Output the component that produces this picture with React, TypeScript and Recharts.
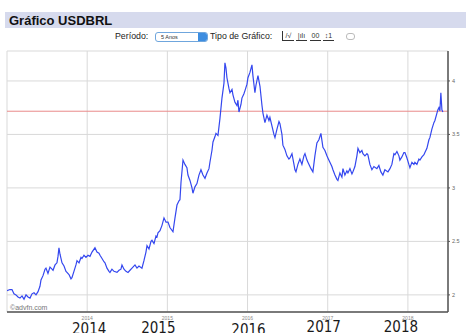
import React from "react";
import { CartesianGrid, Line, LineChart, ReferenceLine, XAxis, YAxis } from "recharts";

// decimal year of each sample
const years = [
  2013.0, 2013.037, 2013.062, 2013.087, 2013.112, 2013.137, 2013.162, 2013.187, 2013.212, 2013.237,
  2013.262, 2013.287, 2013.312, 2013.337, 2013.362, 2013.387, 2013.411, 2013.424, 2013.449, 2013.474,
  2013.486, 2013.511, 2013.536, 2013.561, 2013.574, 2013.599, 2013.623, 2013.636, 2013.648, 2013.661,
  2013.686, 2013.711, 2013.736, 2013.748, 2013.773, 2013.798, 2013.81, 2013.835, 2013.86, 2013.873,
  2013.898, 2013.923, 2013.935, 2013.96, 2013.985, 2014.01, 2014.035, 2014.06, 2014.097, 2014.122,
  2014.147, 2014.16, 2014.185, 2014.209, 2014.222, 2014.247, 2014.272, 2014.284, 2014.309, 2014.334,
  2014.372, 2014.397, 2014.421, 2014.434, 2014.459, 2014.484, 2014.509, 2014.534, 2014.559, 2014.596,
  2014.621, 2014.646, 2014.683, 2014.708, 2014.733, 2014.746, 2014.771, 2014.796, 2014.808, 2014.833,
  2014.858, 2014.87, 2014.883, 2014.908, 2014.933, 2014.958, 2014.983, 2015.008, 2015.032, 2015.07,
  2015.095, 2015.12, 2015.145, 2015.157, 2015.17, 2015.195, 2015.219, 2015.244, 2015.257, 2015.282,
  2015.307, 2015.319, 2015.344, 2015.369, 2015.394, 2015.419, 2015.444, 2015.469, 2015.494, 2015.519,
  2015.531, 2015.556, 2015.569, 2015.594, 2015.606, 2015.631, 2015.656, 2015.681, 2015.706, 2015.718,
  2015.731, 2015.743, 2015.768, 2015.781, 2015.806, 2015.818, 2015.843, 2015.868, 2015.88, 2015.893,
  2015.918, 2015.93, 2015.955, 2015.968, 2015.993, 2016.005, 2016.03, 2016.055, 2016.067, 2016.092,
  2016.105, 2016.13, 2016.155, 2016.18, 2016.192, 2016.217, 2016.242, 2016.267, 2016.279, 2016.304,
  2016.329, 2016.342, 2016.367, 2016.392, 2016.404, 2016.429, 2016.441, 2016.466, 2016.491, 2016.516,
  2016.529, 2016.554, 2016.579, 2016.591, 2016.604, 2016.628, 2016.653, 2016.678, 2016.703, 2016.716,
  2016.741, 2016.753, 2016.778, 2016.791, 2016.815, 2016.84, 2016.865, 2016.89, 2016.915, 2016.94,
  2016.965, 2016.99, 2017.002, 2017.027, 2017.052, 2017.065, 2017.09, 2017.115, 2017.127, 2017.152,
  2017.177, 2017.19, 2017.214, 2017.239, 2017.252, 2017.277, 2017.302, 2017.314, 2017.339, 2017.364,
  2017.377, 2017.401, 2017.426, 2017.439, 2017.464, 2017.489, 2017.501, 2017.526, 2017.551, 2017.576,
  2017.613, 2017.638, 2017.663, 2017.688, 2017.713, 2017.751, 2017.776, 2017.8, 2017.825, 2017.838,
  2017.863, 2017.888, 2017.9, 2017.925, 2017.95, 2017.963, 2017.988, 2018.012, 2018.025, 2018.05,
  2018.075, 2018.087, 2018.112, 2018.137, 2018.15, 2018.175, 2018.2, 2018.212, 2018.237, 2018.262,
  2018.274, 2018.299, 2018.324, 2018.337, 2018.362, 2018.374, 2018.387, 2018.399, 2018.411, 2018.424,
  2018.436,
];

const usdBrl = [
  2.04, 2.05, 2.05, 2.01, 2.0, 1.98, 1.97, 1.99, 1.96, 2.0,
  1.98, 1.97, 2.01, 2.02, 2.0, 2.03, 2.08, 2.14, 2.18, 2.24,
  2.25, 2.2, 2.26, 2.24, 2.23, 2.28, 2.3, 2.36, 2.44, 2.38,
  2.3, 2.27, 2.22, 2.21, 2.19, 2.15, 2.16, 2.22, 2.28, 2.32,
  2.3, 2.35, 2.34, 2.37, 2.35, 2.37, 2.36, 2.4, 2.44, 2.4,
  2.39, 2.37, 2.34, 2.31, 2.3, 2.25, 2.22, 2.21, 2.24, 2.22,
  2.21, 2.23, 2.24, 2.28, 2.24, 2.22, 2.21, 2.23, 2.25, 2.28,
  2.25, 2.27, 2.25, 2.32, 2.4, 2.46, 2.43, 2.5, 2.51, 2.48,
  2.55, 2.54, 2.58, 2.6, 2.65, 2.72, 2.68, 2.68, 2.63, 2.59,
  2.72, 2.84, 2.88, 2.89, 3.05, 3.26, 3.22, 3.19, 3.12, 3.07,
  3.0, 2.95, 3.01, 3.04, 3.12, 3.17, 3.12, 3.09, 3.14, 3.18,
  3.24, 3.35, 3.43, 3.48, 3.51, 3.49, 3.65, 3.84, 3.98, 4.17,
  4.12, 4.03, 3.93, 3.89, 3.92, 3.87, 3.8, 3.77, 3.82, 3.71,
  3.78, 3.84, 3.88, 3.91, 3.97, 4.03, 4.08, 4.15, 4.05, 3.89,
  3.96, 4.05, 3.95, 3.77, 3.7, 3.61, 3.68, 3.63, 3.66, 3.58,
  3.5, 3.47, 3.55, 3.62, 3.6, 3.5, 3.4, 3.36, 3.3, 3.27,
  3.28, 3.32, 3.22, 3.17, 3.15, 3.22, 3.27, 3.22, 3.3, 3.32,
  3.26, 3.24, 3.2, 3.18, 3.15, 3.3, 3.42, 3.45, 3.51, 3.38,
  3.35, 3.3, 3.28, 3.24, 3.2, 3.17, 3.12, 3.08, 3.07, 3.14,
  3.1, 3.18, 3.12, 3.16, 3.14, 3.18, 3.13, 3.15, 3.2, 3.3,
  3.37, 3.33, 3.35, 3.32, 3.3, 3.32, 3.31, 3.22, 3.17, 3.2,
  3.18, 3.21, 3.15, 3.12, 3.17, 3.15, 3.18, 3.22, 3.32, 3.31,
  3.34, 3.3, 3.26, 3.29, 3.33, 3.33, 3.28, 3.22, 3.19, 3.24,
  3.22, 3.24, 3.22, 3.27, 3.26, 3.29, 3.31, 3.33, 3.37, 3.45,
  3.47, 3.55, 3.61, 3.63, 3.7, 3.73, 3.75, 3.72, 3.89, 3.73,
  3.71,
];

const yearTicks = [2014, 2015, 2016, 2017, 2018];
const rateTicks = [2, 2.5, 3, 3.5, 4];
const lastQuote = 3.717;

// hand-placed big year captions under the axis (nudge from each gridline)
const captionNudge: Record<number, [number, number]> = {
  2014: [2, 19.5],
  2015: [-9, 18.5],
  2016: [1, 21],
  2017: [-4, 18],
  2018: [-7, 18],
};

const data = years.map((year, i) => ({ year, rate: usdBrl[i] }));

function YearTick(props: any) {
  const { x, y, payload } = props;
  const [dx, dy] = captionNudge[payload.value] || [0, 20];
  return (
    <g>
      <text x={x} y={y + 6} textAnchor="middle" fontSize={5} fill="#888" fontFamily="Liberation Sans, Arial, sans-serif">
        {payload.value}
      </text>
      <text
        x={x + dx}
        y={y + dy}
        textAnchor="middle"
        fontSize={15}
        fill="#1a1a1a"
        fontFamily="'Liberation Sans Narrow', 'DejaVu Sans Condensed', 'Liberation Sans', sans-serif"
      >
        {payload.value}
      </text>
    </g>
  );
}

const uiFont = "'Liberation Sans', Arial, sans-serif";

function Toolbar() {
  const iconBox: React.CSSProperties = {
    position: "absolute", top: 31, width: 11, height: 9, borderBottom: "1px solid #333",
    fontSize: 7, lineHeight: "9px", textAlign: "center", color: "#333", fontFamily: uiFont,
  };
  return (
    <>
      <div style={{ position: "absolute", left: 5, top: 12, width: 461, height: 16, background: "#d6daed" }} />
      <div style={{ position: "absolute", left: 9, top: 13, fontSize: 13, fontWeight: 700, color: "#111", fontFamily: uiFont, lineHeight: "15px" }}>
        Gráfico USDBRL
      </div>
      <div style={{ position: "absolute", left: 115, top: 31, fontSize: 8.8, color: "#222", fontFamily: uiFont, lineHeight: "11px" }}>
        Período:
      </div>
      <div style={{ position: "absolute", left: 155, top: 32, width: 51, height: 8, border: "1px solid #6fa6dd", borderRadius: 3, background: "#fff", overflow: "hidden" }}>
        <div style={{ position: "absolute", left: 5, top: 0, fontSize: 5.5, lineHeight: "8px", color: "#333", fontFamily: uiFont }}>5 Anos</div>
        <div style={{ position: "absolute", right: 0, top: 0, width: 9, height: 8, background: "#3d8de0" }} />
      </div>
      <div style={{ position: "absolute", left: 210, top: 31, fontSize: 8.8, color: "#222", fontFamily: uiFont, lineHeight: "11px" }}>
        Tipo de Gráfico:
      </div>
      <div style={{ ...iconBox, left: 282, borderLeft: "1px solid #333" }}>/√</div>
      <div style={{ ...iconBox, left: 296 }}>|ılı</div>
      <div style={{ ...iconBox, left: 310 }}>00</div>
      <div style={{ ...iconBox, left: 323 }}>↕1</div>
      <div style={{ position: "absolute", left: 346, top: 33, width: 7, height: 5, border: "1px solid #bbb", borderRadius: 3 }} />
    </>
  );
}

export default function App() {
  return (
    <div style={{ position: "absolute", left: 0, top: 0, width: 466, height: 333, background: "#fff", overflow: "hidden" }}>
      <Toolbar />
      <div style={{ position: "absolute", left: 0, top: 0 }}>
        <LineChart width={466} height={333} data={data} margin={{ top: 51, right: 0, bottom: 0, left: 7 }}>
          <CartesianGrid stroke="#d9d9d9" strokeWidth={1} />
          <XAxis
            dataKey="year"
            type="number"
            domain={[2013, 2018.5]}
            ticks={yearTicks}
            height={21}
            tickLine={false}
            tickSize={0}
            axisLine={{ stroke: "#555", strokeWidth: 1.5 }}
            tick={<YearTick />}
            interval={0}
            allowDataOverflow
          />
          <XAxis xAxisId="top" orientation="top" type="number" domain={[2013, 2018.5]} height={0} tick={false} tickLine={false} axisLine={{ stroke: "#999" }} />
          <YAxis
            orientation="right"
            type="number"
            domain={[1.84, 4.28]}
            ticks={rateTicks}
            width={18}
            tickSize={2}
            tickLine={{ stroke: "#555" }}
            axisLine={{ stroke: "#555", strokeWidth: 1.5 }}
            tick={{ fontSize: 5.5, fill: "#666", fontFamily: uiFont }}
            allowDataOverflow
          />
          <YAxis
            yAxisId="left"
            orientation="left"
            type="number"
            domain={[1.84, 4.28]}
            ticks={rateTicks}
            width={0}
            mirror
            tickSize={3}
            tick={() => <g />}
            tickLine={{ stroke: "#555" }}
            axisLine={{ stroke: "#555", strokeWidth: 2 }}
          />
          <ReferenceLine y={lastQuote} stroke="#e98a8a" strokeWidth={1} />
          <Line dataKey="rate" type="linear" stroke="#3447ef" strokeWidth={1.2} dot={false} isAnimationActive={false} />
          <text x={10} y={310} fontSize={7} fill="#777" fontFamily={uiFont}>©advfn.com</text>
        </LineChart>
      </div>
    </div>
  );
}
